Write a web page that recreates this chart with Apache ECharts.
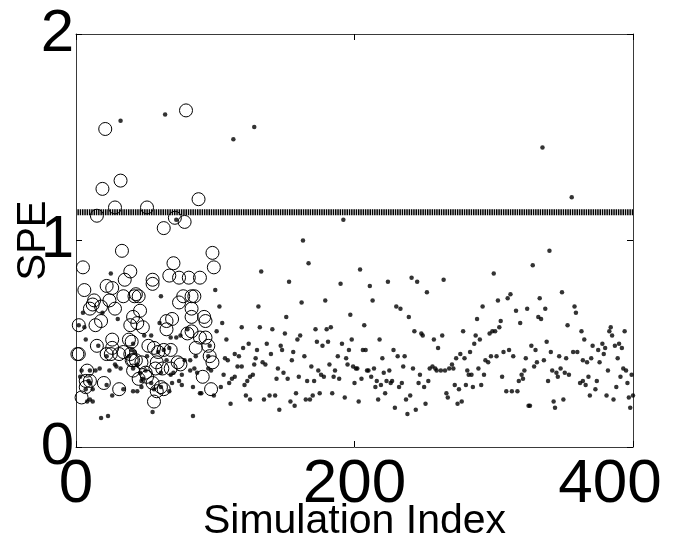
<!DOCTYPE html>
<html>
<head>
<meta charset="utf-8">
<script src="https://cdn.jsdelivr.net/npm/echarts@6/dist/echarts.min.js"></script>
<style>html,body{margin:0;padding:0;background:#fff}#c{width:680px;height:542px}</style>
</head>
<body>
<div id="c"></div>
<script>
// x axis ticks and y axis ticks
const xTicks = [0, 200, 400];
const yTicks = [0, 1, 2];
const xName = 'Simulation Index';
const yName = 'SPE';
// control limit
const limitValue = 1.137;
const limitRange = [1, 400];

// small dots: [simulation index, SPE]
const dots = [
[32,1.58],[64,1.61],[113,1.49],[128,1.55],[335,1.45],[356,1.21],[192,1.10],[72,1.10],
[25,0.84],[5,0.65],[19,0.65],[30,0.62],[2,0.59],[6,0.58],[7,0.52],[16,0.49],[22,0.44],[28,0.40],[29,0.39],
[24,0.37],[32,0.38],[38,0.44],[4,0.37],[10,0.37],[14,0.37],[17,0.38],[3,0.34],[9,0.32],[10,0.31],[7,0.28],
[12,0.28],[22,0.30],[26,0.25],[34,0.28],[41,0.27],[8,0.22],[12,0.22],[10,0.23],[18,0.14],[23,0.15],
[61,0.73],[60,0.60],[80,0.57],[49,0.54],[54,0.54],[68,0.53],[72,0.53],[75,0.54],[41,0.50],[40,0.47],[42,0.46],
[51,0.44],[59,0.46],[63,0.47],[67,0.48],[65,0.42],[78,0.42],[82,0.42],[85,0.38],[82,0.37],[44,0.40],[41,0.38],
[46,0.36],[50,0.37],[61,0.36],[68,0.35],[70,0.36],[76,0.35],[48,0.33],[47,0.32],[54,0.31],[56,0.28],[61,0.29],
[67,0.27],[69,0.31],[76,0.30],[74,0.32],[44,0.27],[47,0.29],[84,0.29],[55,0.17],[84,0.15],
[100,0.76],[103,0.68],[105,0.60],[119,0.58],[101,0.56],[108,0.52],[124,0.50],[120,0.48],[96,0.49],[95,0.44],
[114,0.45],[117,0.44],[107,0.43],[109,0.42],[119,0.39],[116,0.39],[128,0.40],[127,0.35],[125,0.34],[123,0.32],
[121,0.30],[106,0.35],[112,0.33],[110,0.31],[114,0.34],[97,0.37],[87,0.36],[89,0.26],[90,0.26],[104,0.29],
[99,0.25],[122,0.25],[125,0.23],[111,0.21],[95,0.38],[86,0.44],
[163,1.00],[167,0.89],[133,0.85],[153,0.80],[190,0.79],[162,0.70],[179,0.71],[131,0.68],[197,0.64],[151,0.63],
[132,0.58],[141,0.57],[150,0.55],[161,0.54],[172,0.57],[180,0.57],[183,0.58],[159,0.52],[137,0.50],[147,0.49],
[148,0.47],[173,0.51],[181,0.51],[177,0.49],[191,0.50],[198,0.52],[196,0.47],[130,0.47],[140,0.45],[156,0.46],
[164,0.44],[188,0.44],[194,0.43],[129,0.43],[134,0.41],[136,0.40],[155,0.42],[182,0.40],[195,0.40],[199,0.39],
[145,0.38],[169,0.39],[149,0.36],[174,0.37],[176,0.35],[186,0.37],[160,0.34],[178,0.34],[152,0.33],[185,0.34],
[189,0.33],[144,0.33],[166,0.32],[171,0.32],[158,0.26],[184,0.26],[175,0.26],[170,0.25],[139,0.25],[143,0.25],
[135,0.23],[165,0.23],[168,0.23],[193,0.24],[154,0.22],[157,0.20],[146,0.18],
[204,0.86],[224,0.80],[241,0.82],[245,0.80],[264,0.81],[211,0.78],[213,0.71],[252,0.75],[230,0.68],[233,0.67],
[239,0.63],[207,0.59],[243,0.56],[248,0.55],[249,0.54],[263,0.54],[218,0.52],[257,0.52],[260,0.48],[206,0.47],
[208,0.47],[228,0.47],[231,0.44],[236,0.44],[220,0.43],[201,0.38],[202,0.38],[214,0.38],[209,0.37],[210,0.37],
[235,0.39],[242,0.38],[225,0.37],[221,0.36],[247,0.35],[254,0.38],[256,0.39],[258,0.38],[259,0.37],[262,0.37],
[265,0.37],[268,0.38],[205,0.33],[212,0.34],[216,0.32],[223,0.32],[226,0.31],[227,0.32],[253,0.32],[200,0.31],
[215,0.29],[219,0.30],[222,0.26],[232,0.29],[234,0.31],[246,0.31],[250,0.29],[217,0.23],[237,0.23],[240,0.25],
[251,0.21],[203,0.22],[229,0.19],[244,0.18],[238,0.16],[266,0.26],[267,0.24],
[300,0.84],[340,0.95],[328,0.88],[303,0.71],[310,0.72],[312,0.74],[316,0.66],[292,0.68],[349,0.75],[333,0.72],
[337,0.67],[358,0.68],[359,0.65],[324,0.67],[332,0.63],[334,0.62],[288,0.62],[305,0.61],[319,0.60],[353,0.59],
[287,0.54],[290,0.52],[297,0.55],[299,0.56],[301,0.56],[304,0.58],[278,0.56],[338,0.51],[363,0.56],[365,0.52],
[383,0.56],[384,0.58],[385,0.54],[394,0.56],[387,0.49],[390,0.50],[392,0.48],[389,0.43],[378,0.50],[379,0.45],
[380,0.48],[375,0.47],[376,0.41],[371,0.49],[370,0.43],[367,0.41],[364,0.42],[360,0.46],[357,0.46],[352,0.43],
[347,0.44],[341,0.46],[336,0.42],[330,0.47],[327,0.49],[323,0.43],[314,0.44],[311,0.47],[307,0.46],[302,0.44],
[298,0.44],[296,0.41],[294,0.42],[286,0.50],[283,0.46],[279,0.43],[276,0.45],[273,0.43],[270,0.40],[271,0.38],
[281,0.37],[282,0.35],[284,0.35],[289,0.38],[293,0.35],[306,0.34],[309,0.27],[313,0.27],[317,0.27],[318,0.32],
[321,0.33],[320,0.35],[322,0.37],[329,0.39],[331,0.41],[339,0.32],[342,0.37],[345,0.36],[346,0.34],[348,0.38],
[351,0.36],[354,0.35],[362,0.31],[364,0.32],[366,0.30],[368,0.34],[373,0.28],[374,0.32],[382,0.37],[388,0.29],
[391,0.34],[393,0.38],[395,0.37],[396,0.31],[399,0.35],[400,0.25],[397,0.24],[398,0.19],[369,0.25],[381,0.25],
[386,0.23],[350,0.23],[343,0.22],[344,0.19],[325,0.20],[326,0.20],[274,0.21],[277,0.22],[272,0.30],[275,0.28],
[280,0.30],[285,0.29],[291,0.30]
];

// open circles: [simulation index, SPE]
const circles = [
[21,1.54],[79,1.63],[19,1.25],[32,1.29],[28,1.16],[51,1.16],[15,1.12],[88,1.20],[71,1.11],[78,1.09],[63,1.06],
[33,0.95],[5,0.87],[39,0.85],[35,0.81],[6,0.76],[22,0.78],[26,0.77],[34,0.73],[24,0.71],[13,0.71],[12,0.69],
[18,0.68],[10,0.67],[28,0.67],[42,0.73],[2,0.59],[14,0.59],[18,0.61],[26,0.52],[38,0.52],[1,0.45],[2,0.45],
[15,0.49],[22,0.45],[25,0.45],[31,0.45],[34,0.46],[39,0.45],[41,0.42],[8,0.37],[7,0.32],[7,0.29],[4,0.24],
[20,0.31],[31,0.28],
[70,0.89],[67,0.83],[74,0.82],[81,0.82],[55,0.81],[55,0.79],[43,0.74],[77,0.73],[83,0.73],[74,0.70],[83,0.63],
[46,0.66],[41,0.63],[44,0.60],[48,0.58],[65,0.61],[69,0.62],[65,0.57],[83,0.56],[40,0.51],[52,0.49],[56,0.48],
[59,0.46],[63,0.47],[40,0.42],[43,0.42],[47,0.41],[58,0.41],[62,0.38],[73,0.41],[75,0.40],[50,0.36],[41,0.37],
[55,0.31],[61,0.29],[63,0.28],[58,0.27],[56,0.22],
[98,0.94],[99,0.87],[89,0.82],[85,0.73],[83,0.67],[92,0.63],[93,0.61],[93,0.53],[86,0.48],[96,0.44],[98,0.41],
[91,0.34],[97,0.28],
[45,0.73],[39,0.59],[80,0.55],[89,0.53],[26,0.48],[68,0.47],[68,0.38],[51,0.34],[57,0.38],[45,0.33],[10,0.32],[95,0.49]
];

const FONT = 'Liberation Sans';
const xMax = xTicks[xTicks.length - 1];
const chart = echarts.init(document.getElementById('c'), null, {renderer: 'canvas'});
const axisLineStyle = {color: '#3a3a3a', width: 1};
chart.setOption({
  animation: false,
  backgroundColor: '#fff',
  grid: {left: 76, right: 47, top: 34, bottom: 95, containLabel: false, outerBoundsMode: 'none'},
  xAxis: [{
    type: 'value', min: xTicks[0], max: xMax, interval: xTicks[1] - xTicks[0],
    position: 'bottom',
    name: xName, nameLocation: 'middle', nameGap: 54, nameMoveOverlap: false,
    nameTextStyle: {fontFamily: FONT, fontSize: 41, color: '#000'},
    axisLine: {show: true, onZero: false, lineStyle: axisLineStyle},
    axisTick: {show: true, inside: true, length: 6, lineStyle: {color: '#000'}},
    axisLabel: {
      fontFamily: FONT, fontSize: 62, color: '#000', margin: 7,
      formatter: v => v === xMax ? '{last|' + v + '}' : String(v),
      rich: {last: {fontFamily: FONT, fontSize: 62, color: '#000', padding: [0, 46, 0, 0]}}
    },
    splitLine: {show: false}
  }, {
    type: 'value', min: xTicks[0], max: xMax, interval: xTicks[1] - xTicks[0],
    position: 'top',
    axisLine: {show: true, onZero: false, lineStyle: axisLineStyle},
    axisTick: {show: true, inside: true, length: 6, lineStyle: {color: '#000'}},
    axisLabel: {show: false}, splitLine: {show: false}
  }],
  yAxis: [{
    type: 'value', min: yTicks[0], max: yTicks[yTicks.length - 1], interval: yTicks[1] - yTicks[0],
    position: 'left',
    name: yName, nameLocation: 'middle', nameGap: 22, nameRotate: 90, nameMoveOverlap: false,
    nameTextStyle: {fontFamily: FONT, fontSize: 40, color: '#000'},
    axisLine: {show: true, onZero: false, lineStyle: axisLineStyle},
    axisTick: {show: true, inside: true, length: 6, lineStyle: {color: '#000'}},
    axisLabel: {fontFamily: FONT, fontSize: 60, color: '#000', margin: 2},
    splitLine: {show: false}
  }, {
    type: 'value', min: yTicks[0], max: yTicks[yTicks.length - 1], interval: yTicks[1] - yTicks[0],
    position: 'right',
    axisLine: {show: true, onZero: false, lineStyle: axisLineStyle},
    axisTick: {show: true, inside: true, length: 6, lineStyle: {color: '#000'}},
    axisLabel: {show: false}, splitLine: {show: false}
  }],
  series: [{
    type: 'line',
    data: limitRange.map(x => [x, limitValue]),
    symbol: 'none',
    lineStyle: {color: '#000', width: 6, type: [1.5, 0.8]},
    silent: true, z: 1
  }, {
    type: 'scatter',
    data: circles,
    symbol: 'circle',
    symbolSize: 13,
    itemStyle: {color: 'rgba(0,0,0,0)', borderColor: '#000', borderWidth: 1, opacity: 1},
    z: 2
  }, {
    type: 'scatter',
    data: dots,
    symbol: 'circle',
    symbolSize: 4.5,
    itemStyle: {color: '#000'},
    z: 3
  }]
});
</script>
</body>
</html>
